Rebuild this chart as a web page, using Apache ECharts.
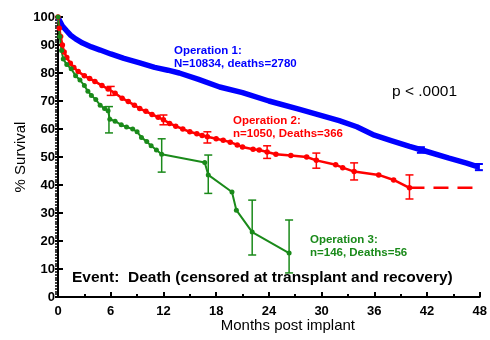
<!DOCTYPE html>
<html>
<head>
<meta charset="utf-8">
<script src="https://cdn.jsdelivr.net/npm/echarts@6/dist/echarts.min.js"></script>
<style>
  html, body { margin: 0; padding: 0; background: #fff; }
  #chart { width: 490px; height: 340px; }
</style>
</head>
<body>
<div id="chart"></div>
<script>
// x ticks (months) and y ticks (% survival)
const monthTicks = [0, 6, 12, 18, 24, 30, 36, 42, 48];
const survivalTicks = [0, 10, 20, 30, 40, 50, 60, 70, 80, 90, 100];

// Operation 1 curve
const op1Months = [0, 0.2, 0.5, 1, 1.4, 2, 2.8, 3.8, 4.8, 6, 7.5, 9.3, 11, 12.5, 13.8, 16, 18.4, 21, 24, 27.5, 30, 32, 34, 36, 38, 40, 41.4, 44.5, 46.5, 47.9];
const op1Survival = [100, 98.5, 96.8, 95, 93.6, 92.2, 90.7, 89.3, 88.2, 86.8, 85.2, 83.6, 82, 81, 80, 77.7, 75, 73, 70, 67, 64.8, 63, 60.8, 57.8, 55.8, 53.8, 52.5, 49.6, 47.8, 46.4];
const op1Err = [[41.3, 51.5, 53.5], [47.9, 45.3, 47.5]];

// Operation 2 curve
const op2Months = [0, 0.15, 0.3, 0.5, 0.7, 1, 1.4, 1.8, 2.3, 3, 3.6, 4.2, 5, 5.7, 6.5, 7.3, 8, 8.7, 9.3, 10, 10.7, 11.4, 12, 12.7, 13.4, 14.2, 15, 15.8, 16.4, 17, 18, 18.8, 19.6, 20.4, 21, 22.2, 22.9, 23.8, 24.8, 26.5, 28.3, 29.4, 31.6, 32.4, 33.7, 36.5, 38.2, 40];
const op2Survival = [100, 96, 93, 90, 87.5, 85.5, 83.5, 82, 80.5, 79, 78, 77, 75.5, 74.3, 72.8, 71, 69.8, 68.5, 67.3, 66.3, 65.2, 64.2, 63.3, 62, 61, 60, 59, 58.3, 57.7, 57.2, 56.5, 56, 55.3, 54.3, 53.6, 52.8, 52.5, 51.8, 51, 50.5, 50, 48.8, 47.2, 46.2, 44.8, 43.6, 41.8, 39];
const op2Err = [[6, 72, 75.2], [12, 61.5, 65], [17, 55, 59], [23.8, 49.5, 54], [29.4, 46, 51.4], [33.7, 41.8, 47.9], [40, 35, 43.6]];
const op2Tail = [[40, 39], [48, 39]];

// Operation 3 curve
const op3Months = [0, 0.2, 0.4, 0.6, 1, 1.5, 2, 2.5, 3, 3.4, 3.8, 4.3, 4.8, 5.3, 5.7, 5.9, 6.5, 7.2, 7.8, 8.5, 9, 9.5, 10.1, 10.6, 11.2, 11.8, 16.7, 17.1, 19.8, 20.3, 22.1, 26.3];
const op3Survival = [100, 93, 88, 85, 83, 81.5, 79, 77.5, 75.5, 73.5, 72, 70.5, 68.5, 67.3, 66.5, 63.5, 62.8, 61.5, 60.7, 60, 59, 57, 55.5, 54, 52.5, 51, 48, 43.6, 37.5, 31, 23.2, 15.7];
const op3Err = [[5.8, 58.6, 68], [11.8, 44.6, 56.5], [17.1, 37, 50.7], [22.1, 15, 34.6], [26.3, 8.6, 27.5]];

const BLUE = "#0000ff";
const RED = "#ff0000";
const GREEN = "#1a8a1a";
const FONT = "Liberation Sans";

function pairs(xs, ys) {
  return xs.map((x, i) => [x, ys[i]]);
}

// vertical error bar with caps
function errorBars(data, color, width) {
  return {
    type: "custom",
    data: data,
    encode: { x: 0, y: [1, 2] },
    z: 5,
    renderItem: (params, api) => {
      const lo = api.coord([api.value(0), api.value(1)]);
      const hi = api.coord([api.value(0), api.value(2)]);
      const cap = 4;
      const style = { stroke: color, lineWidth: width };
      return {
        type: "group",
        children: [
          { type: "line", shape: { x1: lo[0], y1: lo[1], x2: hi[0], y2: hi[1] }, style: style },
          { type: "line", shape: { x1: lo[0] - cap, y1: lo[1], x2: lo[0] + cap, y2: lo[1] }, style: style },
          { type: "line", shape: { x1: hi[0] - cap, y1: hi[1], x2: hi[0] + cap, y2: hi[1] }, style: style },
        ],
      };
    },
  };
}

const chart = echarts.init(document.getElementById("chart"));

const axisLabelStyle = {
  color: "#000",
  fontFamily: FONT,
  fontWeight: "bold",
  fontSize: 13,
};

chart.setOption({
  animation: false,
  grid: { left: 58, right: 9, top: 17, bottom: 43, containLabel: false },
  xAxis: {
    type: "value",
    min: monthTicks[0],
    max: monthTicks[monthTicks.length - 1],
    interval: 6,
    name: "Months post implant",
    nameLocation: "middle",
    nameGap: 21,
    nameMoveOverlap: false,
    nameTextStyle: { color: "#000", fontFamily: FONT, fontSize: 15, padding: [0, 0, 0, 38] },
    axisLine: { lineStyle: { color: "#000", width: 2 } },
    axisTick: { inside: true, length: 5, lineStyle: { color: "#000", width: 2 } },
    minorTick: { show: true, splitNumber: 2, length: 3, lineStyle: { color: "#000", width: 2 } },
    axisLabel: Object.assign({ margin: 8 }, axisLabelStyle),
    splitLine: { show: false },
  },
  yAxis: [
    {
      type: "value",
      min: survivalTicks[0],
      max: survivalTicks[survivalTicks.length - 1],
      interval: 10,
      name: "% Survival",
      nameLocation: "middle",
      nameGap: 30,
      nameMoveOverlap: false,
      nameTextStyle: { color: "#000", fontFamily: FONT, fontSize: 15 },
      axisLine: { lineStyle: { color: "#000", width: 2 } },
      axisTick: { length: 3, lineStyle: { color: "#000", width: 2 } },
      minorTick: { show: true, splitNumber: 10, length: 3, lineStyle: { color: "#000", width: 1.5 } },
      axisLabel: Object.assign({ margin: 3 }, axisLabelStyle),
      splitLine: { show: false },
    },
    {
      // major ticks reaching into the plot
      type: "value",
      position: "left",
      min: 0,
      max: 100,
      interval: 10,
      axisLine: { show: false },
      axisTick: { inside: true, length: 5, lineStyle: { color: "#000", width: 2 } },
      axisLabel: { show: false },
      splitLine: { show: false },
    },
  ],
  graphic: [
    {
      type: "text", left: 174, top: 44,
      style: { text: "Operation 1:\nN=10834, deaths=2780", fill: BLUE, font: "bold 11.5px " + FONT, lineHeight: 13 },
    },
    {
      type: "text", left: 233, top: 114,
      style: { text: "Operation 2:\nn=1050, Deaths=366", fill: RED, font: "bold 11.5px " + FONT, lineHeight: 13 },
    },
    {
      type: "text", left: 310, top: 233,
      style: { text: "Operation 3:\nn=146, Deaths=56", fill: GREEN, font: "bold 11.5px " + FONT, lineHeight: 13 },
    },
    {
      type: "text", left: 392, top: 84,
      style: { text: "p < .0001", fill: "#000", font: "15.5px " + FONT },
    },
    {
      type: "text", left: 72, top: 270,
      style: { text: "Event:  Death (censored at transplant and recovery)", fill: "#000", font: "bold 15.5px " + FONT },
    },
  ],
  series: [
    {
      name: "Operation 1",
      type: "line",
      data: pairs(op1Months, op1Survival),
      showSymbol: false,
      symbol: "none",
      lineStyle: { color: BLUE, width: 5.5 },
      z: 3,
    },
    errorBars(op1Err, BLUE, 2),
    {
      name: "Operation 2",
      type: "line",
      data: pairs(op2Months, op2Survival),
      symbol: "circle",
      symbolSize: 5.5,
      itemStyle: { color: RED },
      lineStyle: { color: RED, width: 2.5 },
      z: 4,
    },
    {
      type: "line",
      data: op2Tail,
      symbol: "none",
      lineStyle: { color: RED, width: 2.5, type: [15, 9] },
      z: 4,
    },
    errorBars(op2Err, RED, 1.5),
    {
      name: "Operation 3",
      type: "line",
      data: pairs(op3Months, op3Survival),
      symbol: "circle",
      symbolSize: 5,
      itemStyle: { color: GREEN },
      lineStyle: { color: GREEN, width: 2 },
      z: 4,
    },
    errorBars(op3Err, GREEN, 1.5),
  ],
});
</script>
</body>
</html>
